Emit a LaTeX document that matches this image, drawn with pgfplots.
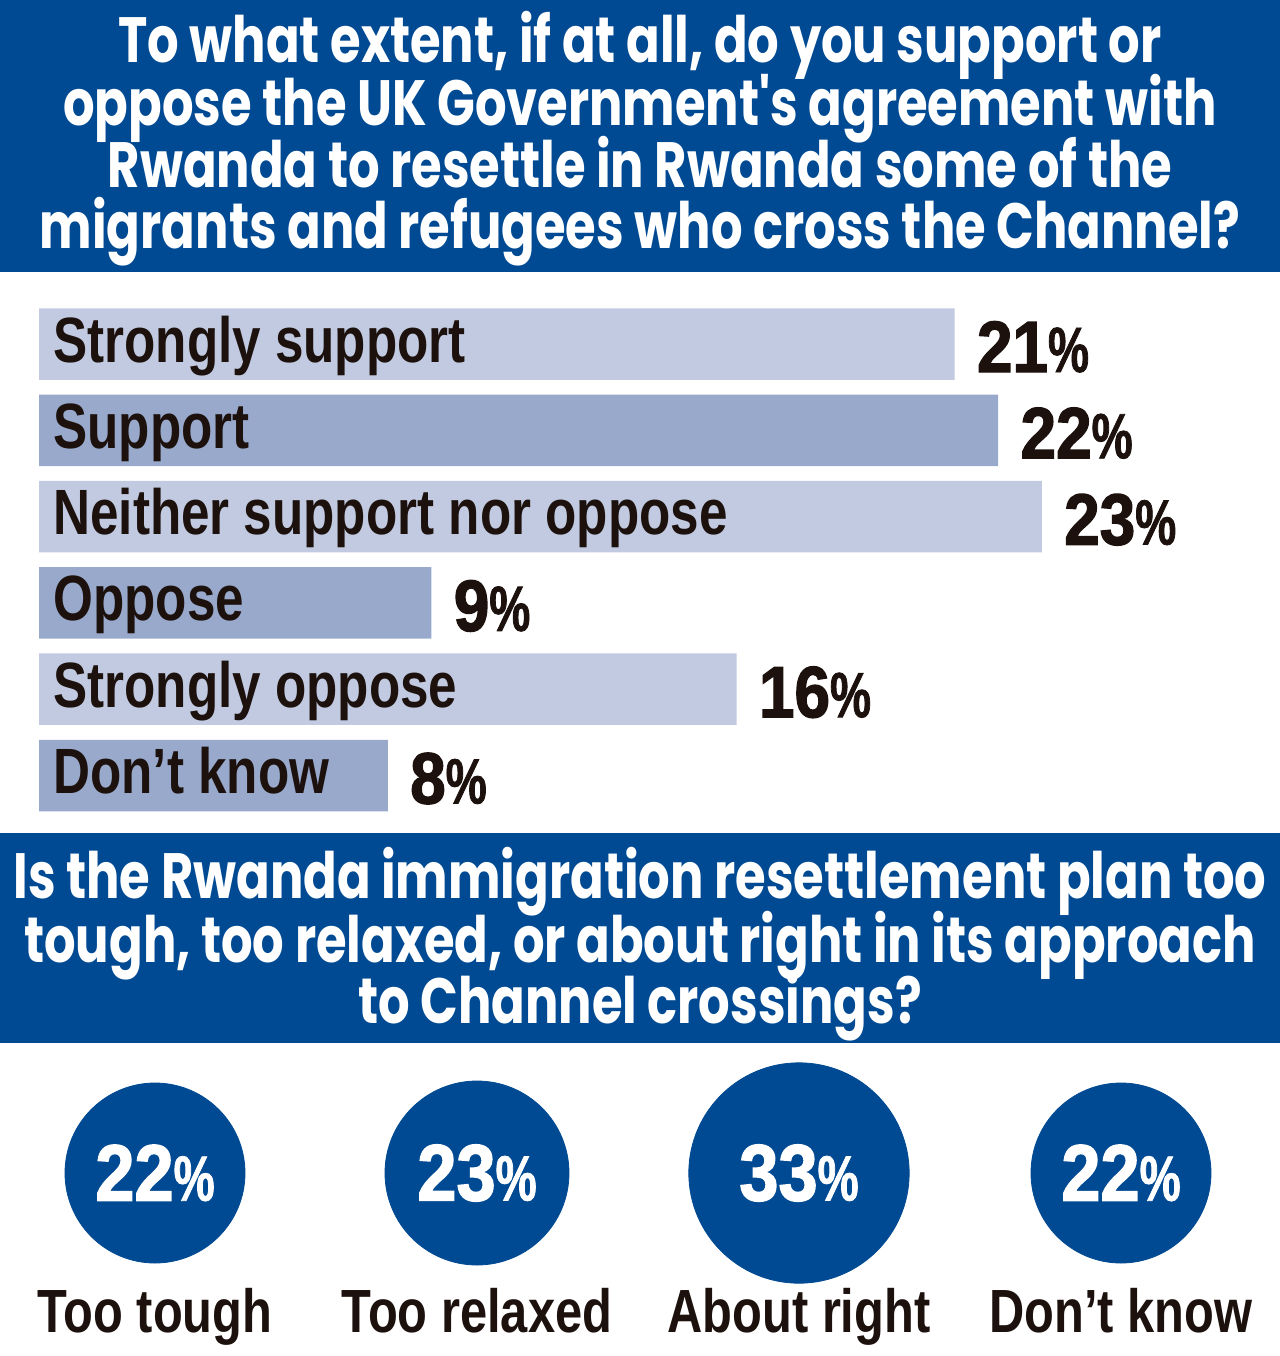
\documentclass[border=0pt]{standalone}
\usepackage{fontspec}
\setmainfont{Liberation Sans}
\newfontfamily\titlefont{Poppins}[FakeStretch=0.775]
\newfontfamily\labelfont{Liberation Sans}[FakeStretch=0.8]
\newfontfamily\valfont{Liberation Sans}[FakeStretch=0.88,FakeBold=1.8]
\newfontfamily\pctfont{Liberation Sans}[FakeStretch=0.72,FakeBold=1.2]
\usepackage{pgfplots}
\pgfplotsset{compat=1.18}
\definecolor{navy}{HTML}{004A93}
\definecolor{barA}{HTML}{C1CAE0}
\definecolor{barB}{HTML}{98A9CC}
\definecolor{ink}{HTML}{1C110D}
\newcommand{\pct}[1]{#1{\pctfont\bfseries\fontsize{32}{32}\selectfont\%}}
\begin{document}
\begin{tikzpicture}[x=0.5pt,y=-0.5pt]
\fill[white] (0,0) rectangle (1280,1356);
\fill[navy] (0,0) rectangle (1280,272);
\fill[navy] (0,833) rectangle (1280,1043);
\tikzset{ttl/.style={anchor=base,text=white,inner sep=0pt,font=\titlefont\bfseries\fontsize{32}{32}\selectfont}}
\node[ttl] at (640,62) {To what extent, if at all, do you support or};
\node[ttl] at (640,125) {oppose the UK Government's agreement with};
\node[ttl] at (640,187) {Rwanda to resettle in Rwanda some of the};
\node[ttl] at (640,248) {migrants and refugees who cross the Channel?};
\node[ttl] at (640,898) {Is the Rwanda immigration resettlement plan too};
\node[ttl] at (640,962) {tough, too relaxed, or about right in its approach};
\node[ttl] at (640,1023) {to Channel crossings?};

\begin{axis}[at={(19.5pt,-150.425pt)}, anchor=north west, scale only axis,
  width=545pt, height=258.9pt, xmin=0, xmax=25, ymin=-0.5, ymax=5.5, y dir=reverse,
  xbar, bar width=35.75pt, bar shift=0pt, axis line style={draw=none}, axis on top,
  xtick=\empty, ytick={0,1,2,3,4,5}, major tick length=0pt,
  yticklabels={Strongly support, Support, Neither support nor oppose, Oppose, Strongly oppose, Don’t know},
  yticklabel style={anchor=base west, xshift=7pt, yshift=-9pt, inner sep=0pt, text=ink,
    font=\labelfont\bfseries\fontsize{32}{32}\selectfont},
  point meta=explicit symbolic,
  nodes near coords={\pct{\pgfplotspointmeta}},
  nodes near coords style={anchor=base west, xshift=11pt, yshift=-14pt, inner sep=0pt, text=ink,
    font=\valfont\bfseries\fontsize{36.3}{36.3}\selectfont},
  clip=false]
\addplot[fill=barA, draw=none] coordinates {(21,0)[21] (23,2)[23] (16,4)[16]};
\addplot[fill=barB, draw=none] coordinates {(22,1)[22] (9,3)[9] (8,5)[8]};
\end{axis}

\begin{axis}[at={(5.05pt,-645pt)}, anchor=south west, scale only axis,
  width=627.9pt, height=117pt, xmin=-0.45, xmax=3.45, ymin=-1, ymax=1,
  axis line style={draw=none}, ytick=\empty, xtick={0,1,2,3}, major tick length=0pt,
  xticklabels={Too tough, Too relaxed, About right, Don’t know},
  xticklabel style={anchor=base, yshift=-21pt, inner sep=0pt, text=ink,
    font=\labelfont\bfseries\fontsize{30.5}{30.5}\selectfont},
  point meta=explicit symbolic,
  nodes near coords={\pct{\pgfplotspointmeta}},
  nodes near coords style={anchor=center, inner sep=0pt, text=white,
    font=\valfont\bfseries\fontsize{40}{40}\selectfont},
  clip=false]
\addplot[only marks, mark=*, mark size=45pt, color=navy, mark options={fill=navy, draw=navy}] coordinates {(0,0)[22]};
\addplot[only marks, mark=*, mark size=46pt, color=navy, mark options={fill=navy, draw=navy}] coordinates {(1,0)[23]};
\addplot[only marks, mark=*, mark size=55.1pt, color=navy, mark options={fill=navy, draw=navy}] coordinates {(2,0)[33]};
\addplot[only marks, mark=*, mark size=45pt, color=navy, mark options={fill=navy, draw=navy}] coordinates {(3,0)[22]};
\end{axis}
\end{tikzpicture}
\end{document}
